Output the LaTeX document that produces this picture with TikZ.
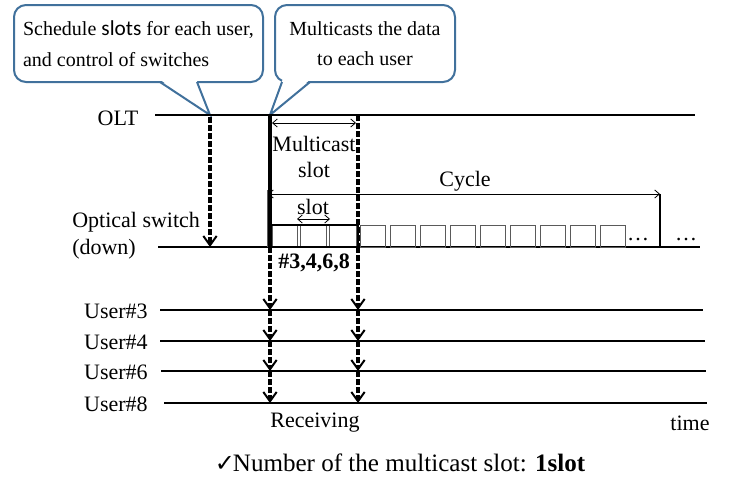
\documentclass[tikz,border=0pt]{standalone}
\usepackage{fontspec}
\setmainfont{Liberation Serif}
\newfontfamily\slotfont{Carlito}
\newfontfamily\symfont{DejaVu Sans}
\usetikzlibrary{arrows.meta,positioning,calc}
\definecolor{callblue}{RGB}{65,113,156}
\definecolor{slotgray}{RGB}{90,90,90}

\begin{document}
\begin{tikzpicture}[x=0.75pt,y=-0.75pt,
  every node/.style={font=\fontsize{16.5}{20}\selectfont, inner sep=0pt},
  timeline/.style={line width=1.2pt},
  sigarrow/.style={line width=2.4pt, dash pattern=on 4.5pt off 1.5pt,
    -{Straight Barb[length=7pt,width=10pt,line width=1.5pt]}},
  dimarrow/.style={line width=0.6pt,
    {Straight Barb[length=3.5pt,width=6pt]}-{Straight Barb[length=3.5pt,width=6pt]}},
  slotbox/.style={draw=slotgray, line width=0.6pt},
  callbox/.style={draw=callblue, line width=1.5pt, rounded corners=9pt, fill=white,
    minimum height=57.75pt, font=\fontsize{15}{23}\selectfont},
  pointer/.style={callblue, line width=1.5pt}
]
  \useasboundingbox (0,0) rectangle (740,496);

  % Callouts
  \node[callbox, minimum width=186.75pt, align=left] (sched) at (138.5,43.5)
    {Schedule {\slotfont\fontsize{16}{23}\selectfont slots} for each user,\\and control of switches};
  \fill[white] (160.5,80) -- (210,115) -- (196.5,80) -- cycle;
  \draw[pointer] (160,82) -- (210,115) -- (197,82);

  \node[callbox, minimum width=135pt, align=center] (mcast) at (365,43.5)
    {Multicasts the data\\to each user};
  \fill[white] (282.5,80) -- (270,115) -- (309.5,80) -- cycle;
  \draw[pointer] (282,82) -- (270,115) -- (310,82);

  % Time lines
  \node (olt) at (118,118) {OLT};
  \draw[timeline] (155,115) -- (695,115);
  \node[anchor=west, align=left] (osw) at (72,236) {Optical switch\\(down)};
  \draw[timeline] (158,247) -- (700,247);

  \foreach \y/\u/\xs/\xe in {310/3/160/703, 341/4/160/705, 371/6/161/706, 403/8/164/707}{
    \node[anchor=east] (user\u) at (148,\y+1) {User\#\u};
    \draw[timeline] (\xs,\y) -- (\xe,\y);
  }

  % Switch control
  \draw[sigarrow] (210,117) -- (210,247);

  % Multicast slot
  \draw[line width=2.4pt] (270,115) -- (270,247);
  \draw[line width=2.4pt, dash pattern=on 4.5pt off 1.5pt] (358,115) -- (358,247);
  \draw[dimarrow] (272,123) -- (356,123);
  \node[align=center] (mslot) at (314,157) {Multicast\\slot};

  % Slots
  \foreach \x/\w in {272/25, 300/26, 329/27}
    \draw[slotbox] (\x,225) rectangle ++(\w,22);
  \draw[line width=2.2pt] (270,225) rectangle (358,247);
  \foreach \i in {0,...,8}
    \draw[slotbox] (360+30*\i,225) rectangle ++(25,22);
  \node (dots1) at (638,240) {\ldots};
  \node (dots2) at (686,240) {\ldots};
  \node[font=\bfseries\fontsize{16.5}{20}\selectfont] (grp) at (314,263) {\#3,4,6,8};

  \node (slotlbl) at (313,207) {slot};
  \draw[dimarrow] (297,219) -- (330,219);

  % Cycle
  \draw[slotgray, line width=0.6pt] (267,190) -- (267,247);
  \draw[line width=0.8pt] (660,194) -- (660,247);
  \draw[dimarrow] (268,194) -- (660,194);
  \node (cycle) at (465,181) {Cycle};

  % Receiving
  \foreach \x in {270,358}{
    \draw[sigarrow] (\x,247) -- (\x,310);
    \draw[sigarrow] (\x,310) -- (\x,341);
    \draw[sigarrow] (\x,341) -- (\x,371);
    \draw[sigarrow] (\x,371) -- (\x,403);
  }
  \node (recv) at (315,423) {Receiving};
  \node (time) at (690,423) {time};

  % Note
  \node[font=\fontsize{18.8}{24}\selectfont] (note) at (400,463)
    {{\symfont\fontsize{18}{24}\selectfont ✓}\kern-1.5pt Number of the multicast slot: \textbf{1slot}};
\end{tikzpicture}
\end{document}
